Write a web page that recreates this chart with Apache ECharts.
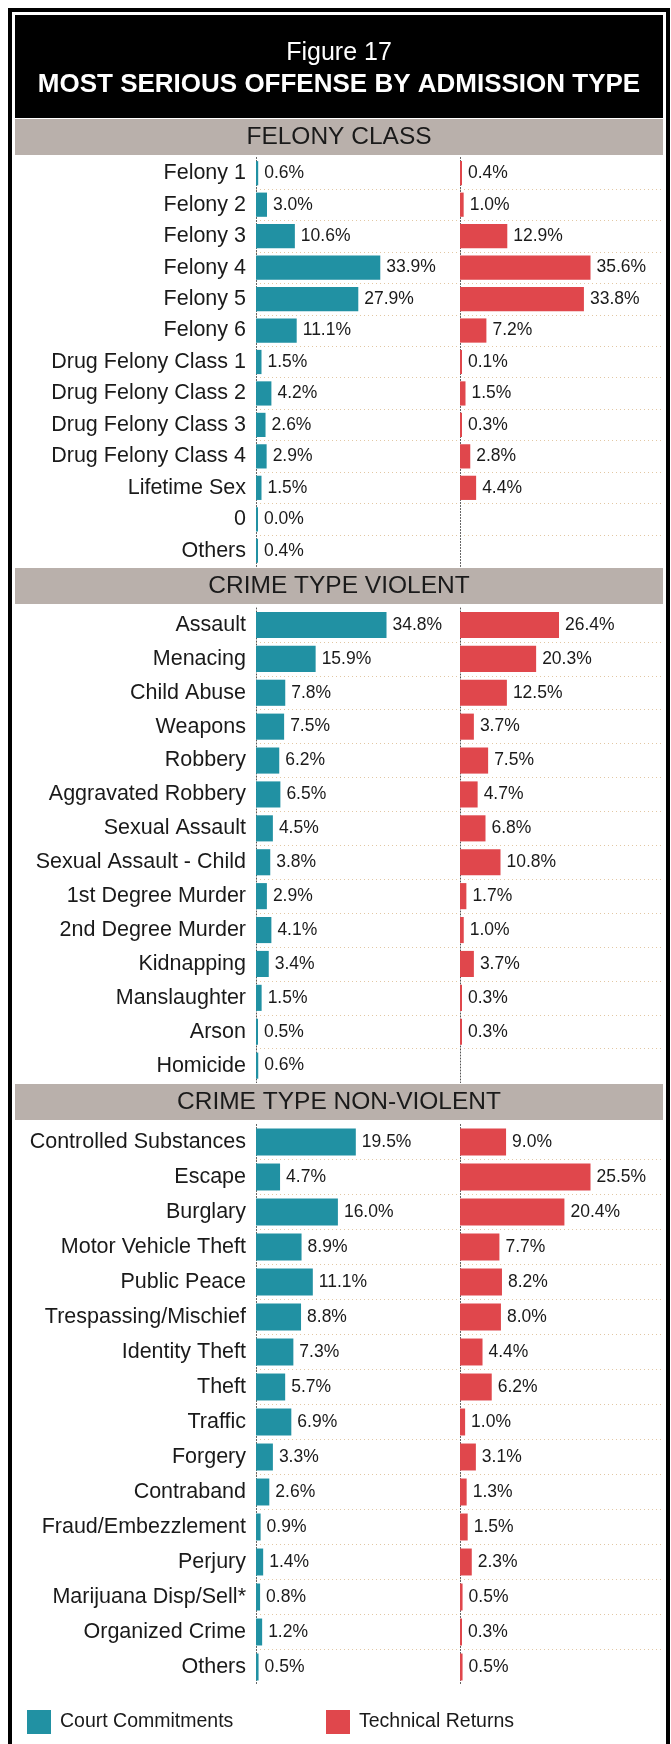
<!DOCTYPE html>
<html>
<head>
<meta charset="utf-8">
<title>Figure 17</title>
<script src="https://cdn.jsdelivr.net/npm/echarts@6/dist/echarts.min.js"></script>
<style>
  html, body { margin: 0; padding: 0; background: #fff; }
  #chart { width: 671px; height: 1744px; }
</style>
</head>
<body>
<div id="chart"></div>
<script>
// section headers
var sectionTitles = ['FELONY CLASS', 'CRIME TYPE VIOLENT', 'CRIME TYPE NON-VIOLENT'];
var seriesNames = ['Court Commitments', 'Technical Returns'];

var felonyCats = ['Felony 1', 'Felony 2', 'Felony 3', 'Felony 4', 'Felony 5', 'Felony 6',
    'Drug Felony Class 1', 'Drug Felony Class 2', 'Drug Felony Class 3', 'Drug Felony Class 4',
    'Lifetime Sex', '0', 'Others'];
var felonyCourt = [0.6, 3.0, 10.6, 33.9, 27.9, 11.1, 1.5, 4.2, 2.6, 2.9, 1.5, 0.0, 0.4];
var felonyTech = [0.4, 1.0, 12.9, 35.6, 33.8, 7.2, 0.1, 1.5, 0.3, 2.8, 4.4, null, null];

var violentCats = ['Assault', 'Menacing', 'Child Abuse', 'Weapons', 'Robbery', 'Aggravated Robbery',
    'Sexual Assault', 'Sexual Assault - Child', '1st Degree Murder', '2nd Degree Murder',
    'Kidnapping', 'Manslaughter', 'Arson', 'Homicide'];
var violentCourt = [34.8, 15.9, 7.8, 7.5, 6.2, 6.5, 4.5, 3.8, 2.9, 4.1, 3.4, 1.5, 0.5, 0.6];
var violentTech = [26.4, 20.3, 12.5, 3.7, 7.5, 4.7, 6.8, 10.8, 1.7, 1.0, 3.7, 0.3, 0.3, null];

var nonViolentCats = ['Controlled Substances', 'Escape', 'Burglary', 'Motor Vehicle Theft',
    'Public Peace', 'Trespassing/Mischief', 'Identity Theft', 'Theft', 'Traffic', 'Forgery',
    'Contraband', 'Fraud/Embezzlement', 'Perjury', 'Marijuana Disp/Sell*', 'Organized Crime', 'Others'];
var nonViolentCourt = [19.5, 4.7, 16.0, 8.9, 11.1, 8.8, 7.3, 5.7, 6.9, 3.3, 2.6, 0.9, 1.4, 0.8, 1.2, 0.5];
var nonViolentTech = [9.0, 25.5, 20.4, 7.7, 8.2, 8.0, 4.4, 6.2, 1.0, 3.1, 1.3, 1.5, 2.3, 0.5, 0.3, 0.5];

var FONT = '"Liberation Sans", Arial, sans-serif';
var TEAL = '#2191a3';
var RED = '#e0474c';

// layout of each section: band top, grid top, row height
var sections = [
    { cats: felonyCats, court: felonyCourt, tech: felonyTech, band: 119, top: 157.5, row: 31.46 },
    { cats: violentCats, court: violentCourt, tech: violentTech, band: 568, top: 608, row: 33.9 },
    { cats: nonViolentCats, court: nonViolentCourt, tech: nonViolentTech, band: 1084, top: 1124.5, row: 35 }
];

var grids = [], xAxes = [], yAxes = [], series = [];
var graphics = [
    // outer frame
    { type: 'rect', shape: { x: 10, y: 10, width: 658, height: 1800 },
      style: { fill: 'none', stroke: '#000', lineWidth: 4 } },
    // title box
    { type: 'rect', shape: { x: 15, y: 15, width: 648, height: 103 }, style: { fill: '#000' } },
    { type: 'text', style: { text: 'Figure 17', x: 339, y: 53, align: 'center', verticalAlign: 'middle',
      fill: '#fff', font: '25px ' + FONT } },
    { type: 'text', style: { text: 'MOST SERIOUS OFFENSE BY ADMISSION TYPE', x: 339, y: 85,
      align: 'center', verticalAlign: 'middle', fill: '#fff', font: 'bold 26px ' + FONT } }
];

sections.forEach(function (s, i) {
    var h = s.cats.length * s.row;
    var maxVal = Math.max.apply(null, s.court.concat(s.tech).filter(function (v) { return v != null; }));
    var axisMax = maxVal * 1.54;

    graphics.push({ type: 'rect', shape: { x: 15, y: s.band, width: 648, height: 36 }, style: { fill: '#b9b0ab' } });
    graphics.push({ type: 'text', style: { text: sectionTitles[i], x: 339, y: s.band + 18,
        align: 'center', verticalAlign: 'middle', fill: '#1a1a1a', font: '24.5px ' + FONT } });

    [256, 460].forEach(function (left, j) {
        var idx = i * 2 + j;
        grids.push({ left: left, top: s.top, width: 201, height: h, outerBoundsMode: 'none' });
        xAxes.push({ gridIndex: idx, type: 'value', min: 0, max: axisMax, show: false });
        yAxes.push({
            gridIndex: idx,
            type: 'category',
            inverse: true,
            data: s.cats,
            axisLine: { show: true, lineStyle: { color: '#555', width: 1, type: [1, 2] } },
            axisTick: { show: false },
            axisLabel: { show: j === 0, margin: 10, fontSize: 21.5, color: '#1a1a1a', fontFamily: FONT },
            splitLine: { show: true, showMinLine: false, showMaxLine: false,
                lineStyle: { color: '#e2c7a3', width: 1, type: [1, 3] } }
        });
        series.push({
            name: seriesNames[j],
            type: 'bar',
            xAxisIndex: idx,
            yAxisIndex: idx,
            data: j === 0 ? s.court : s.tech,
            barCategoryGap: '23%',
            barMinHeight: 2,
            itemStyle: { color: j === 0 ? TEAL : RED },
            label: {
                show: true,
                position: 'right',
                distance: 6,
                fontSize: 17.5,
                color: '#1a1a1a',
                fontFamily: FONT,
                formatter: function (p) { return p.value.toFixed(1) + '%'; }
            }
        });
    });
});

var option = {
    backgroundColor: '#fff',
    animation: false,
    grid: grids,
    xAxis: xAxes,
    yAxis: yAxes,
    legend: [
        { data: [seriesNames[0]], left: 27, top: 1710, padding: 0, itemWidth: 24, itemHeight: 24, icon: 'rect',
          textStyle: { fontSize: 19.5, color: '#1a1a1a', fontFamily: FONT, padding: [0, 0, 0, 4] } },
        { data: [seriesNames[1]], left: 326, top: 1710, padding: 0, itemWidth: 24, itemHeight: 24, icon: 'rect',
          textStyle: { fontSize: 19.5, color: '#1a1a1a', fontFamily: FONT, padding: [0, 0, 0, 4] } }
    ],
    graphic: graphics,
    series: series
};

var chart = echarts.init(document.getElementById('chart'));
chart.setOption(option);
</script>
</body>
</html>
